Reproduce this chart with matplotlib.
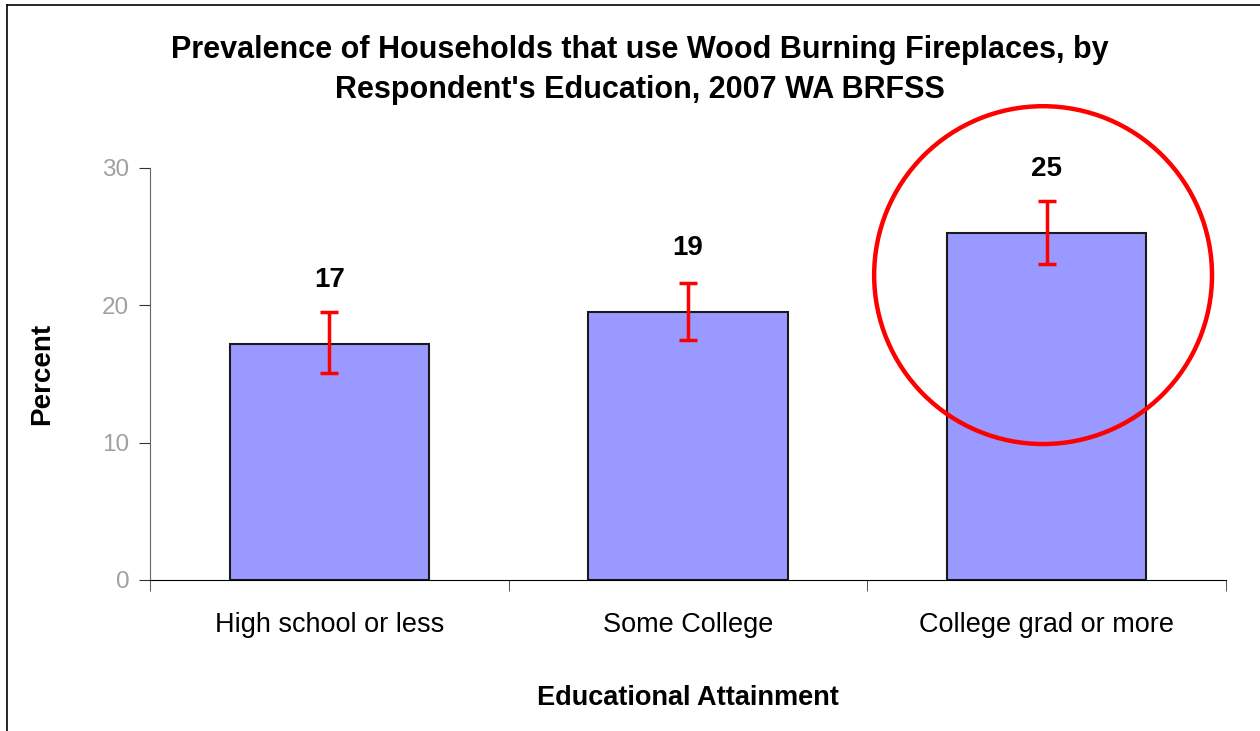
import matplotlib.pyplot as plt
from matplotlib.patches import Ellipse
from matplotlib.lines import Line2D

plt.rcParams['font.family'] = ['Liberation Sans', 'DejaVu Sans']

# Data
categories = ['High school or less', 'Some College', 'College grad or more']
percent = [17.2, 19.5, 25.3]
ci_low = [15.1, 17.5, 23.0]
ci_high = [19.5, 21.6, 27.6]
labels = ['17', '19', '25']

err_low = [p - lo for p, lo in zip(percent, ci_low)]
err_high = [hi - p for p, hi in zip(percent, ci_high)]
x = list(range(len(categories)))

fig = plt.figure(figsize=(12.6, 7.31), dpi=100)
ax = fig.add_axes([150 / 1260, 151 / 731, 1076 / 1260, 412 / 731])

ax.bar(x, percent, width=0.555, color='#9999FF', edgecolor='#1a1a1a', linewidth=1.5, zorder=2)
ax.errorbar(x, percent, yerr=[err_low, err_high], fmt='none', ecolor='#FF0000',
            elinewidth=2.5, capsize=6.5, capthick=2.5, zorder=3)

for xi, p, lab in zip(x, percent, labels):
    ax.annotate(lab, (xi, p), xytext=(0, 46), textcoords='offset points',
                ha='center', va='center', fontsize=20, fontweight='bold')

# red circle highlighting the last bar
ax.add_patch(Ellipse((1.99, 22.2), width=0.942, height=24.6, fill=False,
                     edgecolor='#FF0000', linewidth=3.2, zorder=4, clip_on=False))

ax.set_xlim(-0.5, 2.5)
ax.set_ylim(0, 30)
ax.set_yticks([0, 10, 20, 30])
ax.set_xticks(x)
ax.set_xticklabels(categories, fontsize=19.5)
ax.set_xticks([-0.5, 0.5, 1.5, 2.5], minor=True)
ax.tick_params(axis='x', which='major', length=0, pad=23)
ax.tick_params(axis='x', which='minor', length=8, color='#333333')
ax.tick_params(axis='y', length=8, labelsize=17.5, labelcolor='#A0A0A0', color='#333333', pad=7)

ax.spines['top'].set_visible(False)
ax.spines['right'].set_visible(False)
ax.spines['left'].set_color('#666666')
ax.spines['left'].set_bounds(-0.6, 30)
ax.spines['bottom'].set_color('black')

ax.set_xlabel('Educational Attainment', fontsize=19.5, fontweight='bold', labelpad=34)
ax.set_ylabel('Percent', fontsize=20, fontweight='bold', labelpad=34)

fig.text(640 / 1260, 1 - 70 / 731,
         "Prevalence of Households that use Wood Burning Fireplaces, by\nRespondent's Education, 2007 WA BRFSS",
         ha='center', va='center', fontsize=22, fontweight='bold', linespacing=1.42)

# frame around the chart area
fig.add_artist(Line2D([7 / 1260, 7 / 1260], [0, 1 - 5 / 731], color='black', linewidth=1.2))
fig.add_artist(Line2D([7 / 1260, 1], [1 - 5 / 731, 1 - 5 / 731], color='black', linewidth=1.2))

fig.savefig('out.png', dpi=100)
